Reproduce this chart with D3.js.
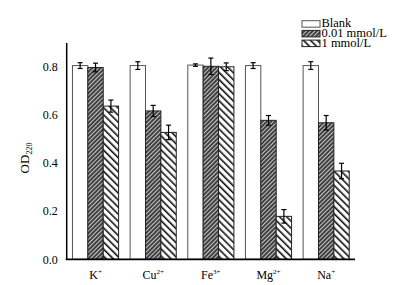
<!DOCTYPE html>
<html>
<head>
<meta charset="utf-8">
<script src="https://cdn.jsdelivr.net/npm/d3@7"></script>
<style>
  body { margin: 0; background: #fff; }
  text { font-family: "Liberation Serif", "Times New Roman", serif; fill: #000; }
</style>
</head>
<body>
<div id="chart-area"></div>
<script>
var ions = ["K", "Cu", "Fe", "Mg", "Na"];
var charges = ["+", "2+", "3+", "2+", "+"];
var seriesNames = ["Blank", "0.01 mmol/L", "1 mmol/L"];
var blankVals = [0.803, 0.803, 0.805, 0.803, 0.803];
var blankErr = [0.012, 0.016, 0.005, 0.012, 0.016];
var lowVals = [0.795, 0.615, 0.800, 0.576, 0.566];
var lowErr = [0.018, 0.023, 0.034, 0.020, 0.030];
var highVals = [0.635, 0.526, 0.798, 0.178, 0.366];
var highErr = [0.025, 0.030, 0.016, 0.028, 0.032];
var yTicks = [0, 0.2, 0.4, 0.6, 0.8];

var W = 410, H = 285;
var plotLeft = 66.7, plotRight = 355, plotTop = 43, plotBottom = 259.3;

var svg = d3.select("#chart-area")
    .append("svg")
    .attr("width", W)
    .attr("height", H);

var defs = svg.append("defs");

// dense dark hatch, rising lines
var p1 = defs.append("pattern")
    .attr("id", "dark")
    .attr("patternUnits", "userSpaceOnUse")
    .attr("width", 3)
    .attr("height", 3)
    .attr("patternTransform", "rotate(45)");
p1.append("rect").attr("width", 3).attr("height", 3).attr("fill", "#3a3a3a");
p1.append("rect").attr("width", 1.1).attr("height", 3).attr("fill", "#c4c4c4");

// open hatch, falling lines
var p2 = defs.append("pattern")
    .attr("id", "light")
    .attr("patternUnits", "userSpaceOnUse")
    .attr("width", 5)
    .attr("height", 5)
    .attr("patternTransform", "rotate(-45)");
p2.append("rect").attr("width", 5).attr("height", 5).attr("fill", "#fff");
p2.append("rect").attr("width", 1.6).attr("height", 5).attr("fill", "#111");

var fills = ["#fff", "url(#dark)", "url(#light)"];
var strokes = ["#555", "#222", "#222"];

var data = ions.map(function (ion, i) {
    return {
        ion: ion,
        values: [
            { s: 0, v: blankVals[i], e: blankErr[i] },
            { s: 1, v: lowVals[i], e: lowErr[i] },
            { s: 2, v: highVals[i], e: highErr[i] }
        ]
    };
});

var x0 = d3.scaleBand().domain(ions).range([plotLeft, plotRight]).paddingInner(0.2).paddingOuter(0.1);
var x1 = d3.scaleBand().domain([0, 1, 2]).range([0, x0.bandwidth()]);
var y = d3.scaleLinear().domain([0, 0.8]).range([plotBottom, 66.3]);

var groups = svg.selectAll(".grp")
    .data(data)
    .enter().append("g")
    .attr("class", "grp")
    .attr("transform", d => "translate(" + x0(d.ion) + ",0)");

groups.selectAll("rect")
    .data(d => d.values)
    .enter().append("rect")
    .attr("x", d => x1(d.s))
    .attr("y", d => y(d.v))
    .attr("width", x1.bandwidth())
    .attr("height", d => y(0) - y(d.v))
    .attr("fill", d => fills[d.s])
    .attr("stroke", d => strokes[d.s])
    .attr("stroke-width", 1);

// error bars
var eb = groups.selectAll(".eb")
    .data(d => d.values)
    .enter().append("g")
    .attr("class", "eb")
    .attr("stroke", "#000")
    .attr("stroke-width", 1.2);
eb.append("line")
    .attr("x1", d => x1(d.s) + x1.bandwidth() / 2)
    .attr("x2", d => x1(d.s) + x1.bandwidth() / 2)
    .attr("y1", d => y(d.v + d.e))
    .attr("y2", d => y(d.v - d.e));
eb.append("line")
    .attr("x1", d => x1(d.s) + x1.bandwidth() / 2 - 2.5)
    .attr("x2", d => x1(d.s) + x1.bandwidth() / 2 + 2.5)
    .attr("y1", d => y(d.v + d.e))
    .attr("y2", d => y(d.v + d.e));
eb.append("line")
    .attr("x1", d => x1(d.s) + x1.bandwidth() / 2 - 2.5)
    .attr("x2", d => x1(d.s) + x1.bandwidth() / 2 + 2.5)
    .attr("y1", d => y(d.v - d.e))
    .attr("y2", d => y(d.v - d.e));

// axes
var yAxis = svg.append("g")
    .attr("transform", "translate(" + plotLeft + ",0)")
    .call(d3.axisLeft(y).tickValues(yTicks).tickFormat(d3.format(".1f")).tickSize(0).tickPadding(9));
yAxis.select(".domain").remove();
yAxis.selectAll("text")
    .attr("font-family", "Liberation Serif, serif")
    .attr("font-size", "12px");

svg.append("line")
    .attr("x1", plotLeft).attr("x2", plotLeft)
    .attr("y1", plotTop).attr("y2", plotBottom)
    .attr("stroke", "#000").attr("stroke-width", 1.5);
svg.append("line")
    .attr("x1", plotLeft - 1).attr("x2", plotRight)
    .attr("y1", plotBottom).attr("y2", plotBottom)
    .attr("stroke", "#000").attr("stroke-width", 1.8);

// category labels with superscript charges
var cat = svg.selectAll(".cat")
    .data(ions)
    .enter().append("text")
    .attr("class", "cat")
    .attr("x", d => x0(d) + x0.bandwidth() / 2)
    .attr("y", 279)
    .attr("text-anchor", "middle")
    .attr("font-size", "12px");
cat.append("tspan").text(d => d);
cat.append("tspan")
    .attr("dy", -5)
    .attr("font-size", "7px")
    .text((d, i) => charges[i]);

// y label
var yl = svg.append("text")
    .attr("transform", "translate(29,158) rotate(-90)")
    .attr("text-anchor", "middle")
    .attr("font-size", "13px");
yl.append("tspan").text("OD");
yl.append("tspan").attr("dy", 3).attr("font-size", "8px").text("220");

// legend
var legend = svg.selectAll(".leg")
    .data(seriesNames)
    .enter().append("g")
    .attr("class", "leg")
    .attr("transform", (d, i) => "translate(302," + (20.7 + i * 9.7) + ")");
legend.append("rect")
    .attr("width", 18)
    .attr("height", 6.5)
    .attr("fill", (d, i) => fills[i])
    .attr("stroke", (d, i) => strokes[i])
    .attr("stroke-width", 1);
legend.append("text")
    .attr("x", 19.5)
    .attr("y", 6.6)
    .attr("font-size", "12.5px")
    .text(d => d);
</script>
</body>
</html>
